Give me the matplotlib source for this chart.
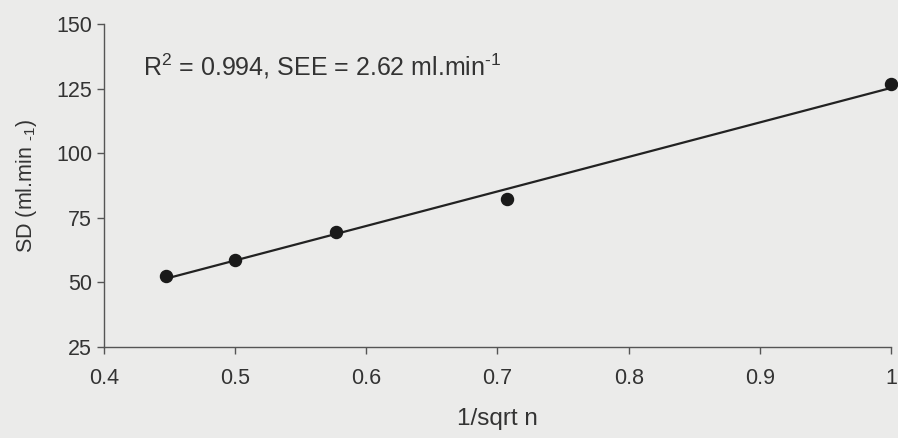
import numpy as np
import matplotlib.pyplot as plt

# 数据
x_vals = [0.447, 0.5, 0.577, 0.707, 1.0]
sd_vals = [52.5, 58.8, 69.6, 82.4, 126.8]
x_ticks = [0.4, 0.5, 0.6, 0.7, 0.8, 0.9, 1.0]
x_tick_labels = ['0.4', '0.5', '0.6', '0.7', '0.8', '0.9', '1']
y_ticks = [25, 50, 75, 100, 125, 150]

plt.rcParams['font.family'] = ['Liberation Sans', 'DejaVu Sans']
plt.rcParams['mathtext.fontset'] = 'custom'
plt.rcParams['mathtext.rm'] = 'Liberation Sans'

bg = '#ebebea'
txt = '#333333'

fig = plt.figure(figsize=(8.98, 4.38), dpi=100, facecolor=bg)
ax = fig.add_axes([104 / 898, 1 - 347 / 438, (891 - 104) / 898, (347 - 24) / 438])
ax.set_facecolor(bg)

# 回归线
slope, intercept = np.polyfit(x_vals, sd_vals, 1)
xl = np.array([min(x_vals), max(x_vals)])
ax.plot(xl, slope * xl + intercept, color='#222222', lw=1.6, zorder=2)
ax.scatter(x_vals, sd_vals, s=75, color='#1a1a1a', zorder=3, clip_on=False)

ax.set_xlim(0.4, 1.0)
ax.set_ylim(25, 150)
ax.set_xticks(x_ticks)
ax.set_xticklabels(x_tick_labels)
ax.set_yticks(y_ticks)

for s in ['top', 'right']:
    ax.spines[s].set_visible(False)
for s in ['left', 'bottom']:
    ax.spines[s].set_color('#555555')
    ax.spines[s].set_linewidth(1.0)
ax.tick_params(colors='#555555', labelcolor=txt, labelsize=15.5, length=5, width=1)
ax.tick_params(axis='x', pad=10)

ax.set_xlabel('1/sqrt n', fontsize=17.5, color=txt, labelpad=14)
ax.set_ylabel('SD (ml.min $_{\\text{-}1}$)', fontsize=15.5, color=txt, labelpad=12)

ax.text(0.43, 133.5, 'R$^2$ = 0.994, SEE = 2.62 ml.min$^{\\text{-}1}$', fontsize=18,
        color=txt, va='center')

plt.savefig('out.png', dpi=100, facecolor=bg)
